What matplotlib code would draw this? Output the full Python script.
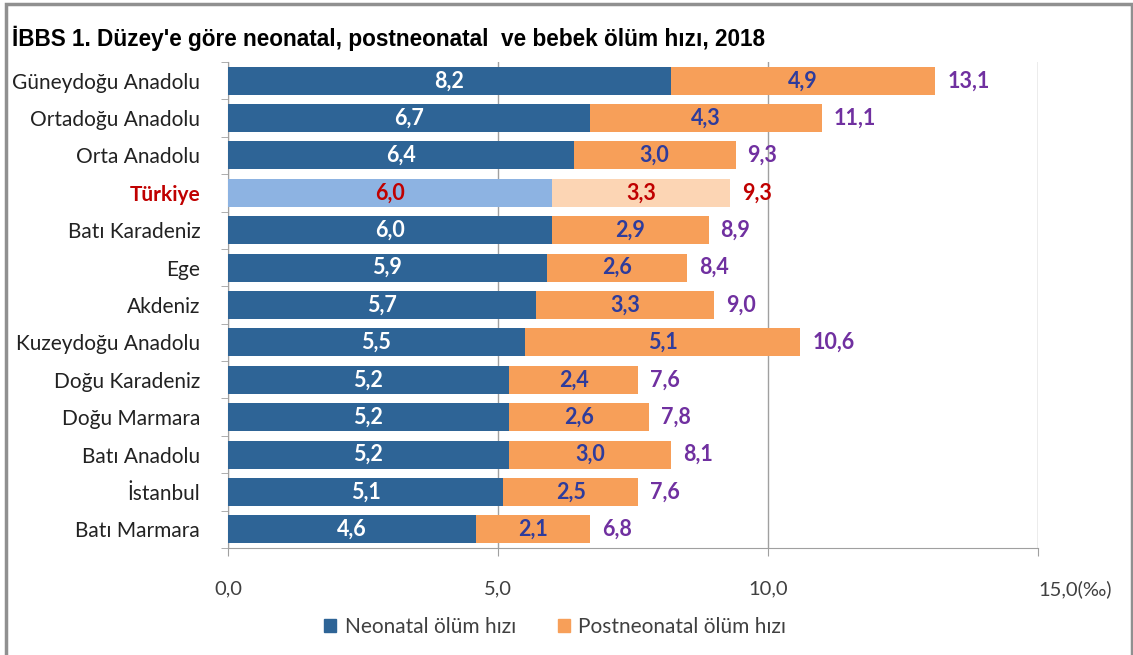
import numpy as np
import matplotlib.pyplot as plt
from matplotlib.patches import Rectangle
from matplotlib.transforms import ScaledTranslation

# data (top to bottom as in the chart)
regions = ['Güneydoğu Anadolu', 'Ortadoğu Anadolu', 'Orta Anadolu', 'Türkiye',
           'Batı Karadeniz', 'Ege', 'Akdeniz', 'Kuzeydoğu Anadolu', 'Doğu Karadeniz',
           'Doğu Marmara', 'Batı Anadolu', 'İstanbul', 'Batı Marmara']
neonatal = [8.2, 6.7, 6.4, 6.0, 6.0, 5.9, 5.7, 5.5, 5.2, 5.2, 5.2, 5.1, 4.6]
postneonatal = [4.9, 4.3, 3.0, 3.3, 2.9, 2.6, 3.3, 5.1, 2.4, 2.6, 3.0, 2.5, 2.1]
total = [13.1, 11.1, 9.3, 9.3, 8.9, 8.4, 9.0, 10.6, 7.6, 7.8, 8.1, 7.6, 6.8]
xticks = [0, 5, 10, 15]
xticklabels = ['0,0', '5,0', '10,0', '15,0(‰)']

c_neo = '#2e6496'
c_post = '#f79f59'
c_neo_tr = '#8db3e2'
c_post_tr = '#fcd5b4'
c_in_lbl = '#2e3c9c'
c_tot = '#7030a0'
c_red = '#c00000'

plt.rcParams['font.family'] = ['Lato', 'DejaVu Sans']

fig = plt.figure(figsize=(11.33, 6.55), dpi=100)
ax = fig.add_axes([0.2012, 0.1634, 0.7150, 0.7419])

y = np.arange(len(regions))
is_tr = [r == 'Türkiye' for r in regions]
col1 = [c_neo_tr if t else c_neo for t in is_tr]
col2 = [c_post_tr if t else c_post for t in is_tr]

b1 = ax.barh(y, neonatal, height=0.75, color=col1, zorder=3, label='Neonatal ölüm hızı')
b2 = ax.barh(y, postneonatal, left=neonatal, height=0.75, color=col2, zorder=3,
             label='Postneonatal ölüm hızı')

for i in range(len(regions)):
    tr = is_tr[i]
    ax.text(neonatal[i] / 2, y[i], f'{neonatal[i]:.1f}'.replace('.', ','),
            ha='center', va='center', fontsize=15.5, fontweight='bold',
            color=c_red if tr else 'white', zorder=4)
    ax.text(neonatal[i] + postneonatal[i] / 2, y[i], f'{postneonatal[i]:.1f}'.replace('.', ','),
            ha='center', va='center', fontsize=15.5, fontweight='bold',
            color=c_red if tr else c_in_lbl, zorder=4)
    ax.text(neonatal[i] + postneonatal[i] + 0.22, y[i], f'{total[i]:.1f}'.replace('.', ','),
            ha='left', va='center', fontsize=15.5, fontweight='bold',
            color=c_red if tr else c_tot, zorder=4)

ax.set_xlim(0, 15)
ax.set_ylim(len(regions) - 0.5, -0.5)
ax.set_xticks(xticks)
ax.set_xticklabels(xticklabels, fontsize=14.5, color='#404040')
# last label starts a bit left of its tick, the unit sticks out to the right
last = ax.get_xticklabels()[-1]
last.set_ha('left')
last.set_transform(last.get_transform() + ScaledTranslation(-0.28, 0, fig.dpi_scale_trans))
ax.set_yticks(y)
ax.set_yticklabels(regions, fontsize=15, color='#222222')
for lbl in ax.get_yticklabels():
    if lbl.get_text() == 'Türkiye':
        lbl.set_color(c_red)
        lbl.set_fontweight('bold')
ax.set_yticks(np.arange(len(regions) + 1) - 0.5, minor=True)
ax.tick_params(axis='y', which='major', length=0, pad=20)
ax.tick_params(axis='y', which='minor', length=5, color='#a0a0a0')
ax.tick_params(axis='x', length=6, color='#a0a0a0', pad=17)
ax.grid(axis='x', color='#a0a0a0', linewidth=1, zorder=0)
for s in ['top', 'right']:
    ax.spines[s].set_visible(False)
ax.spines['left'].set_color('#a0a0a0')
ax.spines['bottom'].set_color('#a0a0a0')

fig.text(0.011, 0.942, "İBBS 1. Düzey'e göre neonatal, postneonatal  ve bebek ölüm hızı, 2018",
         fontsize=16.3, fontweight='bold', family=['Liberation Sans', 'DejaVu Sans'],
         ha='left', va='center')

fig.legend(handles=[b1.patches[0], b2.patches[0]],
           labels=['Neonatal ölüm hızı', 'Postneonatal ölüm hızı'],
           loc='center', bbox_to_anchor=(0.49, 0.043), ncol=2, frameon=False,
           fontsize=15, handlelength=0.6, handleheight=0.6, handletextpad=0.4,
           columnspacing=2.0)
leg = fig.legends[0]
leg.legend_handles[0].set_color(c_neo)
leg.legend_handles[1].set_color(c_post)
for t in leg.get_texts():
    t.set_color('#404040')

fig.patches.append(Rectangle((0.005, -0.01), 0.994, 1.004, transform=fig.transFigure,
                             fill=False, edgecolor='#909090', linewidth=2.5))

fig.savefig('out.png', dpi=100)
